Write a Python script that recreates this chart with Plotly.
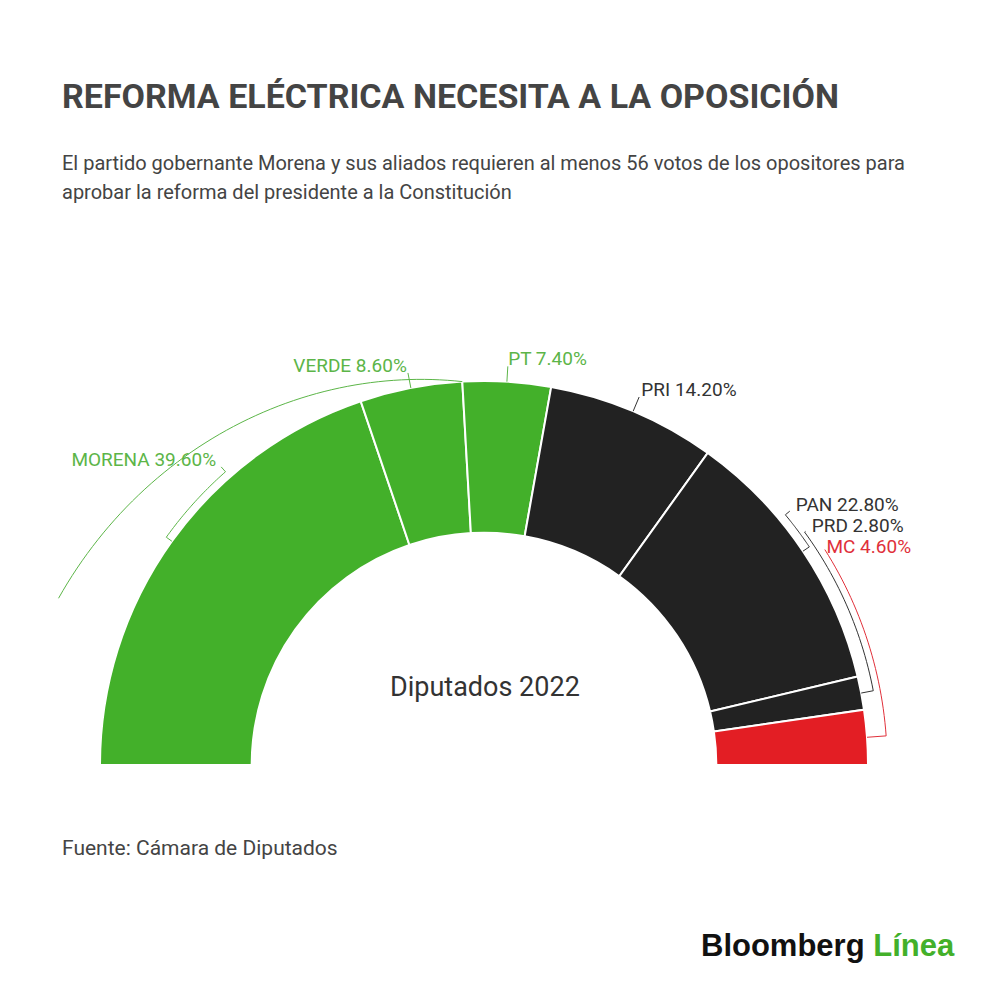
import numpy as np
import plotly.graph_objects as go

# Diputados 2022, share of seats (%)
parties = ["MORENA", "VERDE", "PT", "PRI", "PAN", "PRD", "MC"]
shares = [39.6, 8.6, 7.4, 14.2, 22.8, 2.8, 4.6]

bar_colors = ["#43b02a", "#43b02a", "#43b02a", "#222222", "#222222", "#222222", "#e31e24"]
label_colors = ["#5cb548", "#5cb548", "#5cb548", "#333333", "#333333", "#333333", "#e0303a"]

# leader line style per label: elbow radius (None = straight tick), label angle, side
leader_elbow = [1.018, None, None, None, 1.02, 1.032, 1.05]
label_angle = [131.4, None, None, None, 39.7, 36.0, 32.3]
label_pos = ["middle left", "middle left", "middle right", "middle right",
             "middle right", "middle right", "middle right"]

R_IN = 0.605
R_MAX = 1.2

cum = np.concatenate([[0], np.cumsum(shares)])
start = 180 - 1.8 * cum[:-1]
end = 180 - 1.8 * cum[1:]
mid = (start + end) / 2
width = 1.8 * np.array(shares)

fig = go.Figure()

fig.add_trace(go.Barpolar(
    r=[1 - R_IN] * len(parties), base=R_IN, theta=mid, width=width,
    marker=dict(color=bar_colors, line=dict(color="white", width=2)),
    hoverinfo="skip", showlegend=False,
))

# leader lines
lab_r, lab_t = [], []
for i, p in enumerate(parties):
    if leader_elbow[i] is None:
        rs = [1.0, 1.04]
        ts = [mid[i], mid[i]]
        lab_t.append(mid[i])
    else:
        re = leader_elbow[i]
        arc = np.linspace(mid[i], label_angle[i], 30)
        rs = [1.0] + [re] * len(arc) + [max(re, 1.035)]
        ts = [mid[i]] + list(arc) + [label_angle[i]]
        lab_t.append(label_angle[i])
    lab_r.append(1.055)
    fig.add_trace(go.Scatterpolar(
        r=rs, theta=ts, mode="lines", line=dict(color=label_colors[i], width=1),
        hoverinfo="skip", showlegend=False, cliponaxis=False,
    ))

# long thin green arc over the governing side
sp_t = np.linspace(158.6, end[1], 60)
sp_r = 1.0 + (sp_t - end[1]) / (158.6 - end[1]) * 0.19
fig.add_trace(go.Scatterpolar(
    r=sp_r, theta=sp_t, mode="lines", line=dict(color="#5cb548", width=1),
    hoverinfo="skip", showlegend=False, cliponaxis=False,
))

fig.add_trace(go.Scatterpolar(
    r=lab_r, theta=lab_t, mode="text",
    text=[f"{p} {s:.2f}%" for p, s in zip(parties, shares)],
    textposition=label_pos,
    textfont=dict(family="Roboto", size=19, color=label_colors),
    hoverinfo="skip", showlegend=False, cliponaxis=False,
))

# the page is shown with an 8px body margin
OFF = 8
cx, cy, rpx = 484 - OFF, 765 - OFF, 384
W, H = 1000, 990
big = rpx * R_MAX


def px(x):
    return (x - OFF) / W


def py(y):
    return 1 - (y - OFF) / H


fig.update_layout(
    width=W, height=H,
    margin=dict(l=0, r=0, t=0, b=0),
    paper_bgcolor="white",
    polar=dict(
        domain=dict(x=[(cx - big) / W, (cx + big) / W], y=[(H - cy) / H, (H - cy + big) / H]),
        sector=[0, 180],
        hole=0,
        bgcolor="white",
        radialaxis=dict(range=[0, R_MAX], visible=False, showgrid=False),
        angularaxis=dict(visible=False, showgrid=False, direction="counterclockwise", rotation=0),
    ),
    font=dict(family="Roboto", color="#444444"),
)

fig.add_annotation(text="<b>REFORMA ELÉCTRICA NECESITA A LA OPOSICIÓN</b>",
                   x=px(60), y=py(96), xref="paper", yref="paper",
                   xanchor="left", yanchor="middle", showarrow=False,
                   font=dict(family="Roboto", size=34, color="#444444"))
fig.add_annotation(text="El partido gobernante Morena y sus aliados requieren al menos 56 votos de los opositores para",
                   x=px(60), y=py(163), xref="paper", yref="paper",
                   xanchor="left", yanchor="middle", showarrow=False,
                   font=dict(family="Roboto", size=20, color="#444444"))
fig.add_annotation(text="aprobar la reforma del presidente a la Constitución",
                   x=px(60), y=py(192), xref="paper", yref="paper",
                   xanchor="left", yanchor="middle", showarrow=False,
                   font=dict(family="Roboto", size=20, color="#444444"))
fig.add_annotation(text="Diputados 2022",
                   x=px(485), y=py(687), xref="paper", yref="paper",
                   xanchor="center", yanchor="middle", showarrow=False,
                   font=dict(family="Roboto", size=27, color="#333333"))
fig.add_annotation(text="Fuente: Cámara de Diputados",
                   x=px(60), y=py(848), xref="paper", yref="paper",
                   xanchor="left", yanchor="middle", showarrow=False,
                   font=dict(family="Roboto", size=21, color="#444444"))
fig.add_annotation(text="<b>Bloomberg</b> <span style='color:#43b02a'><b>Línea</b></span>",
                   x=px(957), y=py(945), xref="paper", yref="paper",
                   xanchor="right", yanchor="middle", showarrow=False,
                   font=dict(family="Liberation Sans", size=31, color="#111111"))

fig.write_html("out.html")
